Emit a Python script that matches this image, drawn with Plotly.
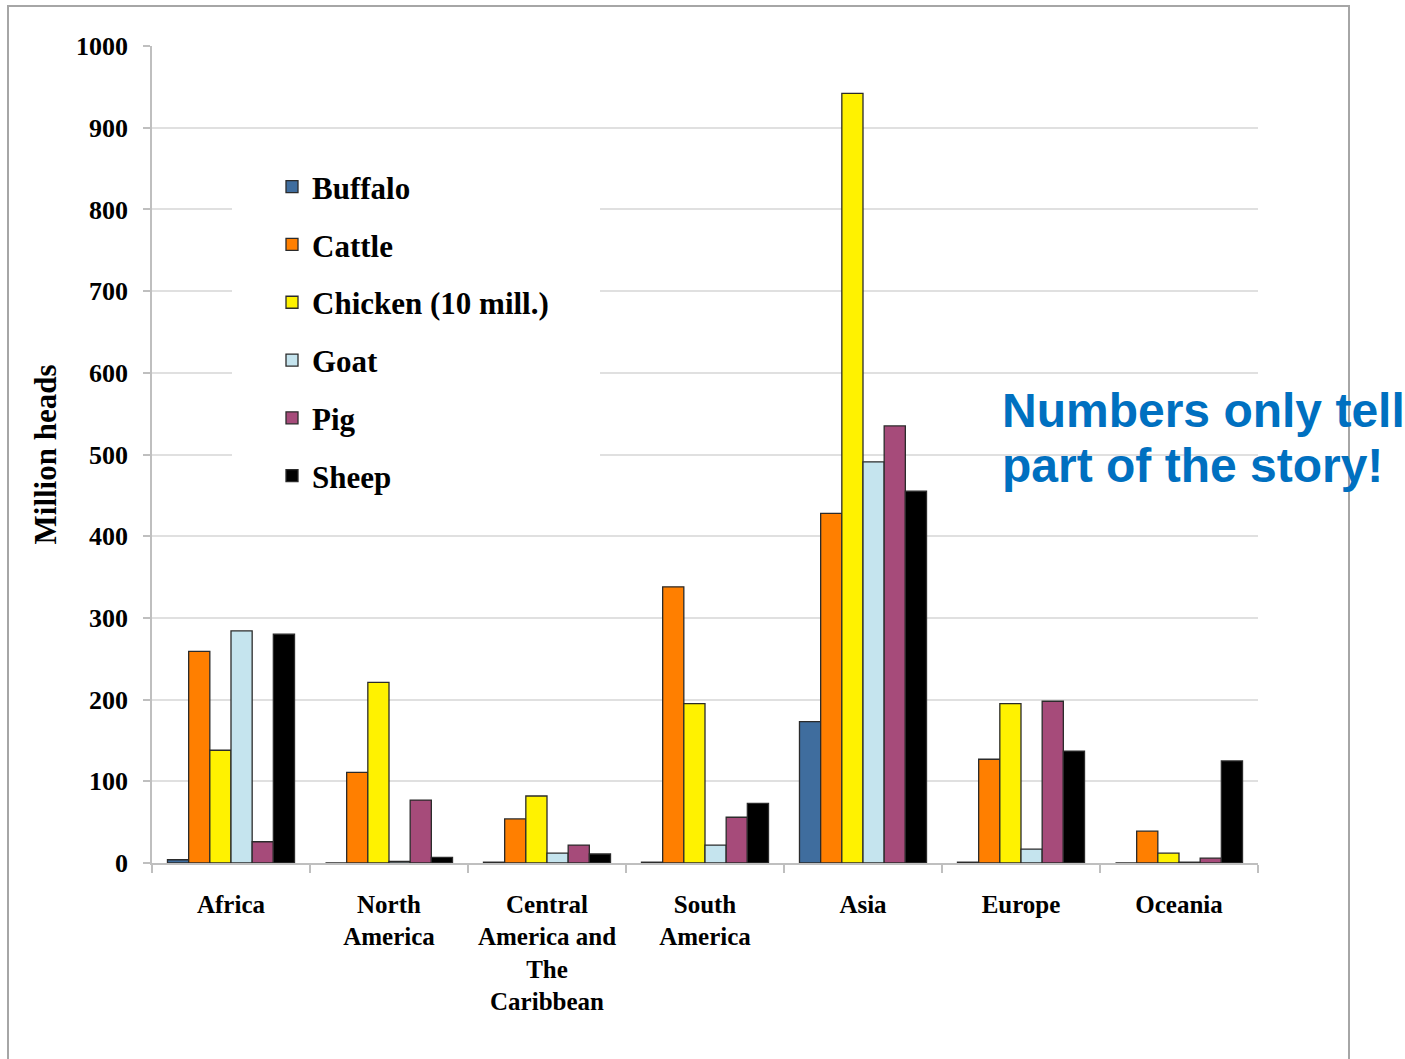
import plotly.graph_objects as go

regions = ["Africa", "North<br>America", "Central<br>America and<br>The<br>Caribbean",
           "South<br>America", "Asia", "Europe", "Oceania"]

buffalo = [4, 0, 1, 1, 173, 1, 0]
cattle = [259, 111, 54, 338, 428, 127, 39]
chicken = [138, 221, 82, 195, 942, 195, 12]
goat = [284, 2, 12, 22, 491, 17, 1]
pig = [26, 77, 22, 56, 535, 198, 6]
sheep = [280, 7, 11, 73, 455, 137, 125]

series_names = ["Buffalo", "Cattle", "Chicken (10 mill.)", "Goat", "Pig", "Sheep"]
series_values = [buffalo, cattle, chicken, goat, pig, sheep]
series_colors = ["#3F6D9E", "#FF7F00", "#FFF200", "#C5E4EE", "#A64B7A", "#000000"]

y_ticks = [0, 100, 200, 300, 400, 500, 600, 700, 800, 900, 1000]

W, H = 1405, 1059
L, R, T, B = 152, 1258, 46, 863
pw, ph = R - L, B - T


def px_x(p):
    return (p - L) / pw


def px_y(p):
    return (B - p) / ph


serif = "Liberation Serif"

fig = go.Figure()
for i, (name, vals, col) in enumerate(zip(series_names, series_values, series_colors)):
    fig.add_trace(go.Bar(
        x=regions, y=vals, name=name,
        marker=dict(color=col, line=dict(color="#2b2b2b", width=1.3)),
        legendgroup=f"g{i}",
    ))

fig.update_layout(
    width=W, height=H,
    margin=dict(l=L, r=W - R, t=T, b=H - B, pad=0),
    paper_bgcolor="white", plot_bgcolor="white",
    barmode="group", bargap=0.196, bargroupgap=0,
    showlegend=True,
    legend=dict(
        x=px_x(272), y=px_y(160), xanchor="left", yanchor="top",
        bgcolor="rgba(0,0,0,0)",
        font=dict(family=serif, size=31, color="black", weight="bold"),
        traceorder="grouped", tracegroupgap=14.5,
        itemwidth=30,
    ),
    font=dict(family=serif, color="black"),
)

fig.update_xaxes(
    type="category",
    showline=True, linecolor="#bfbfbf", linewidth=1.5,
    ticks="outside", tickson="boundaries", ticklen=8, tickcolor="#bfbfbf", tickwidth=1.5,
    tickfont=dict(family=serif, size=25, color="black", weight="bold"),
    ticklabelstandoff=18,
    showgrid=False,
    tickangle=0,
)

fig.update_yaxes(
    range=[0, 1000],
    tickvals=y_ticks,
    showline=True, linecolor="#bfbfbf", linewidth=1.5,
    ticks="outside", ticklen=7, tickcolor="#bfbfbf", tickwidth=1.5,
    showgrid=True, gridcolor="#e0e0e0", gridwidth=1.5,
    zeroline=False,
    tickfont=dict(family=serif, size=26, color="black", weight="bold"),
    ticklabelstandoff=10,
    title=dict(text="Million heads", font=dict(family=serif, size=31, color="black", weight="bold"),
               standoff=10),
)

# white area behind legend (breaks gridlines)
fig.add_shape(type="rect", xref="paper", yref="paper",
              x0=px_x(232), x1=px_x(600), y0=px_y(510), y1=px_y(145),
              fillcolor="white", line=dict(width=0), layer="above")

# outer frame
fig.add_shape(type="rect", xref="paper", yref="paper",
              x0=px_x(8), x1=px_x(1349), y0=px_y(1080), y1=px_y(6),
              fillcolor="rgba(0,0,0,0)", line=dict(color="#a6a6a6", width=2), layer="above")

note_font = dict(family="Liberation Sans", size=48, color="#0070C0", weight="bold")
fig.add_annotation(
    text="Numbers only tell",
    xref="paper", yref="paper", x=px_x(1000), y=px_y(410),
    xanchor="left", yanchor="middle", align="left", showarrow=False, font=note_font,
)
fig.add_annotation(
    text="part of the story!",
    xref="paper", yref="paper", x=px_x(1000), y=px_y(466),
    xanchor="left", yanchor="middle", align="left", showarrow=False, font=note_font,
)

fig.write_html("out.html")
